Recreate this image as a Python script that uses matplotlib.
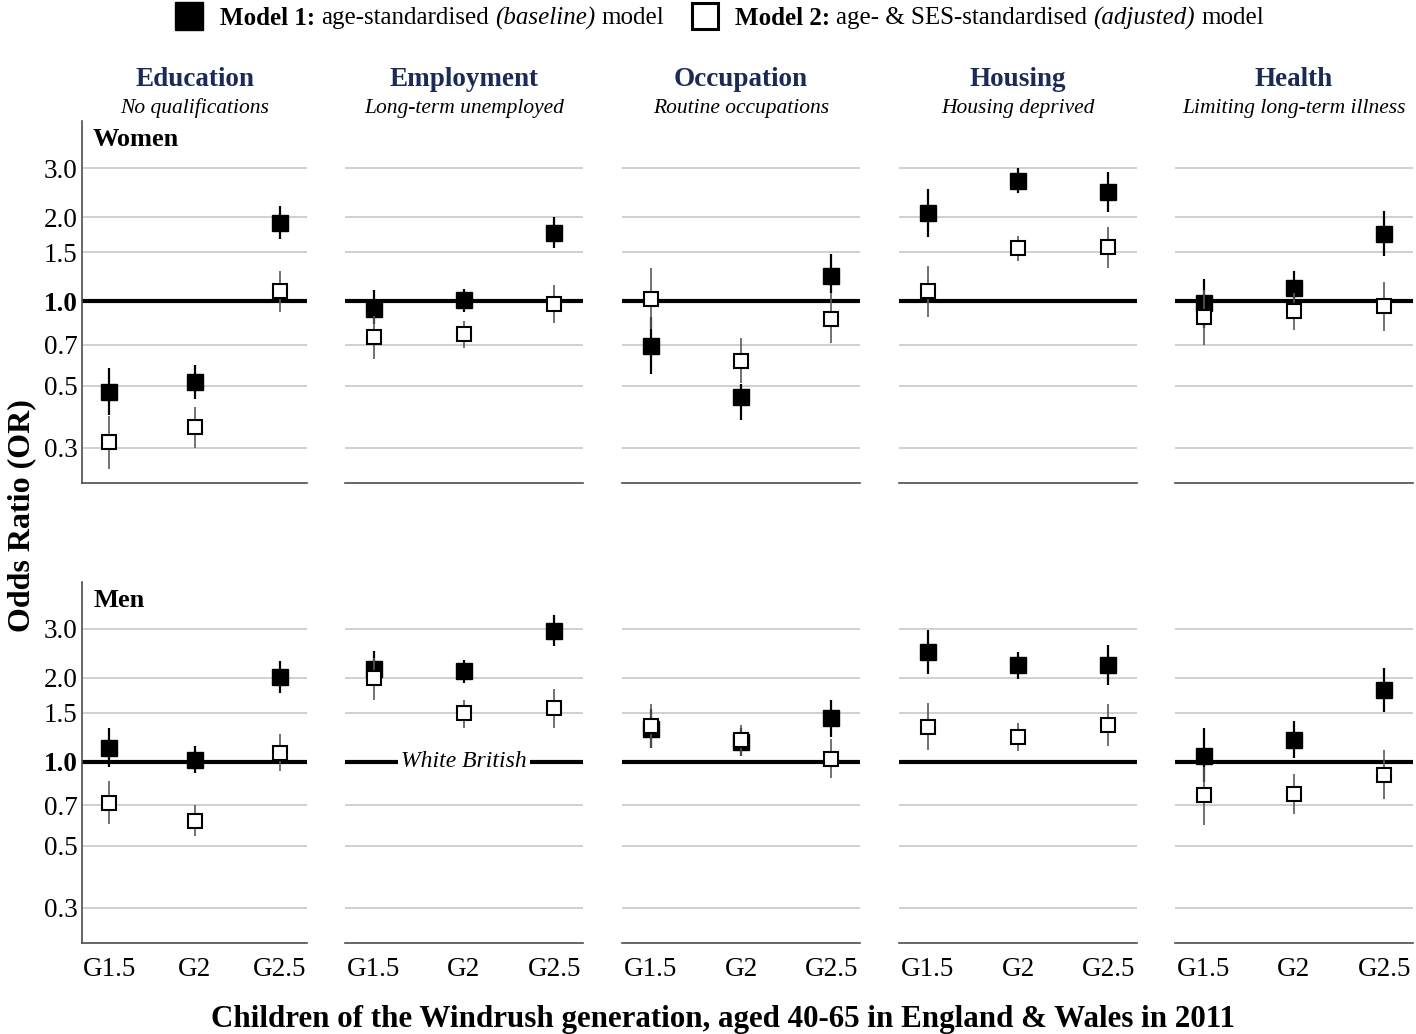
import matplotlib
matplotlib.use('Agg')
import matplotlib.pyplot as plt
import numpy as np

plt.rcParams['font.family'] = ['Liberation Serif', 'DejaVu Serif']

# Data (odds ratios)
domains = ['Education', 'Employment', 'Occupation', 'Housing', 'Health']
subtitles = ['No qualifications', 'Long-term unemployed', 'Routine occupations',
             'Housing deprived', 'Limiting long-term illness']
generations = ['G1.5', 'G2', 'G2.5']
rows = ['Women', 'Men']

# Model 1 (baseline) women
m1_women_est = [[0.475, 0.514, 1.915], [0.941, 1.008, 1.763], [0.694, 0.454, 1.229],
                [2.073, 2.70, 2.465], [0.99, 1.12, 1.748]]
m1_women_lo = [[0.393, 0.447, 1.67], [0.83, 0.915, 1.557], [0.548, 0.377, 1.071],
               [1.696, 2.445, 2.09], [0.80, 0.977, 1.453]]
m1_women_hi = [[0.577, 0.59, 2.19], [1.10, 1.104, 2.005], [0.88, 0.507, 1.482],
               [2.53, 2.99, 2.90], [1.206, 1.284, 2.108]]
# Model 2 (adjusted) women
m2_women_est = [[0.313, 0.354, 1.086], [0.745, 0.762, 0.981], [1.022, 0.614, 0.867],
                [1.086, 1.552, 1.565], [0.876, 0.921, 0.96]]
m2_women_lo = [[0.252, 0.30, 0.915], [0.623, 0.682, 0.839], [0.794, 0.509, 0.711],
               [0.878, 1.391, 1.32], [0.696, 0.787, 0.783]]
m2_women_hi = [[0.39, 0.418, 1.284], [0.89, 0.85, 1.14], [1.316, 0.741, 1.07],
               [1.335, 1.72, 1.846], [1.10, 1.07, 1.173]]

# Model 1 (baseline) men
m1_men_est = [[1.122, 1.019, 2.018], [2.148, 2.12, 2.96], [1.31, 1.175, 1.436],
              [2.485, 2.22, 2.227], [1.053, 1.201, 1.812]]
m1_men_lo = [[0.957, 0.914, 1.763], [1.87, 1.925, 2.60], [1.12, 1.05, 1.23],
             [2.074, 1.99, 1.888], [0.85, 1.036, 1.504]]
m1_men_hi = [[1.32, 1.138, 2.31], [2.49, 2.33, 3.36], [1.55, 1.32, 1.665],
             [2.985, 2.48, 2.618], [1.32, 1.397, 2.18]]
# Model 2 (adjusted) men
m2_men_est = [[0.714, 0.614, 1.077], [2.006, 1.493, 1.555], [1.341, 1.202, 1.025],
              [1.337, 1.225, 1.36], [0.758, 0.769, 0.901]]
m2_men_lo = [[0.599, 0.541, 0.924], [1.67, 1.326, 1.32], [1.122, 1.048, 0.874],
             [1.104, 1.092, 1.143], [0.596, 0.652, 0.738]]
m2_men_hi = [[0.855, 0.698, 1.259], [2.35, 1.67, 1.82], [1.61, 1.356, 1.208],
             [1.62, 1.375, 1.61], [0.96, 0.906, 1.106]]

grid_values = [0.3, 0.5, 0.7, 1.5, 2.0, 3.0]
ytick_values = [0.3, 0.5, 0.7, 1.0, 1.5, 2.0, 3.0]
ytick_labels = ['0.3', '0.5', '0.7', '1.0', '1.5', '2.0', '3.0']

W, H = 1416, 1034
fig = plt.figure(figsize=(W / 100, H / 100), dpi=100)

# panel positions in pixels (left, right), rows (top, bottom)
col_px = [(82, 307), (345, 583), (622, 860), (899, 1137), (1175, 1413)]
row_px = [(121, 483), (582, 943)]

title_color = '#1b2a57'
data = [
    (m1_women_est, m1_women_lo, m1_women_hi, m2_women_est, m2_women_lo, m2_women_hi),
    (m1_men_est, m1_men_lo, m1_men_hi, m2_men_est, m2_men_lo, m2_men_hi),
]
x = np.arange(1, 4)

for r in range(2):
    t, b = row_px[r]
    m1e, m1l, m1h, m2e, m2l, m2h = data[r]
    for c in range(5):
        l, rr = col_px[c]
        ax = fig.add_axes([l / W, 1 - b / H, (rr - l) / W, (b - t) / H])
        ax.set_yscale('log')
        ax.set_ylim(0.224, 4.42)
        ax.set_xlim(0.68, 3.32)
        for g in grid_values:
            ax.axhline(g, color='#c8c8c8', lw=1.2, zorder=1)
        ax.axhline(1.0, color='black', lw=3.0, zorder=2)

        # model 1: black squares
        ax.vlines(x, m1l[c], m1h[c], color='black', lw=1.6, zorder=3)
        ax.plot(x, m1e[c], 's', ms=11, color='black', mec='black', zorder=4)
        # model 2: white squares
        ax.vlines(x, m2l[c], m2h[c], color='#5a5a5a', lw=1.2, zorder=5)
        ax.plot(x, m2e[c], 's', ms=10.5, mfc='white', mec='black', mew=1.5, zorder=6)

        for s in ['top', 'right']:
            ax.spines[s].set_visible(False)
        ax.spines['bottom'].set_color('#4d4d4d')
        ax.spines['bottom'].set_linewidth(1.2)
        ax.yaxis.set_minor_locator(matplotlib.ticker.NullLocator())
        ax.tick_params(length=0)
        if c == 0:
            ax.spines['left'].set_color('#4d4d4d')
            ax.spines['left'].set_linewidth(1.2)
            ax.set_yticks(ytick_values)
            ax.set_yticklabels(ytick_labels, fontsize=19.5)
            ax.tick_params(axis='y', pad=3)
            for lab in ax.get_yticklabels():
                if lab.get_text() == '1.0':
                    lab.set_fontweight('bold')
            ax.text(0.049, 0.948, rows[r], transform=ax.transAxes, fontsize=19,
                    fontweight='bold', ha='left', va='center')
        else:
            ax.spines['left'].set_visible(False)
            ax.set_yticks([])
        if r == 1:
            ax.set_xticks(x)
            ax.set_xticklabels(generations, fontsize=19.5)
            ax.tick_params(axis='x', pad=10)
        else:
            ax.set_xticks([])
        if r == 1 and c == 1:
            ax.text(2, 1.0, 'White British', fontsize=17, style='italic',
                    ha='center', va='center', zorder=7,
                    bbox=dict(facecolor='white', edgecolor='none', pad=2))
        if r == 0:
            cx = (l + rr) / 2 / W
            fig.text(cx, 1 - 79 / H, domains[c], fontsize=19.5, fontweight='bold',
                     color=title_color, ha='center', va='center')
            fig.text(cx, 1 - 108.5 / H, subtitles[c], fontsize=15.5, style='italic',
                     ha='center', va='center')

# axis labels
fig.text(22 / W, 1 - 516 / H, 'Odds Ratio (OR)', rotation=90, fontsize=23,
         fontweight='bold', ha='center', va='center')
fig.text(723 / W, 1 - 1019 / H,
         'Children of the Windrush generation, aged 40-65 in England & Wales in 2011',
         fontsize=22.3, fontweight='bold', ha='center', va='center')

# legend at top
leg_y = 1 - 16 / H
fig.lines.append(matplotlib.lines.Line2D([189 / W], [leg_y], marker='s', ms=20,
                                         color='black', transform=fig.transFigure))
fig.lines.append(matplotlib.lines.Line2D([704.5 / W], [leg_y], marker='s', ms=18.5,
                                         mfc='white', mec='black', mew=2.2,
                                         transform=fig.transFigure))

renderer = fig.canvas.get_renderer()
space_px = 0.25 * 18 * 100 / 72
text_y = 1 - 18 / H


def write_pieces(x0, pieces):
    xp = x0
    for txt, weight, style, gap in pieces:
        t_ = fig.text(xp / W, text_y, txt, fontsize=18, fontweight=weight,
                      style=style, ha='left', va='center')
        bb = t_.get_window_extent(renderer)
        xp += bb.width + gap * space_px


write_pieces(220, [('Model 1:', 'bold', 'normal', 1),
                   ('age-standardised', 'normal', 'normal', 1),
                   ('(baseline)', 'normal', 'italic', 1),
                   ('model', 'normal', 'normal', 0)])
write_pieces(735, [('Model 2:', 'bold', 'normal', 1),
                   ('age- & SES-standardised', 'normal', 'normal', 1),
                   ('(adjusted)', 'normal', 'italic', 1),
                   ('model', 'normal', 'normal', 0)])

fig.savefig('out.png', dpi=100)
